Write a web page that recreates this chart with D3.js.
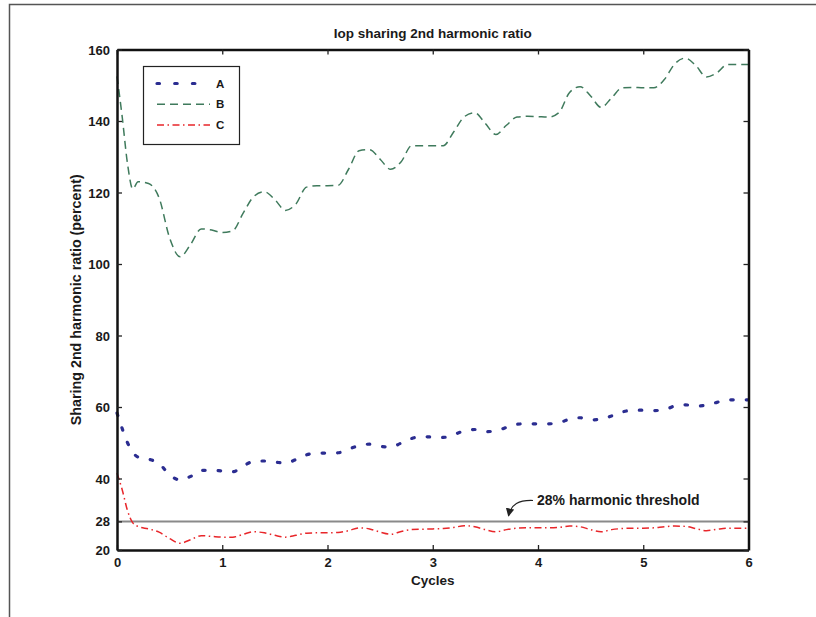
<!DOCTYPE html>
<html><head><meta charset="utf-8">
<script src="https://cdn.jsdelivr.net/npm/d3@7"></script>
<style>
html,body{margin:0;padding:0;background:#fff;}
text{font-family:"Liberation Sans",Arial,Helvetica,sans-serif;font-weight:bold;fill:#1a1a1a;}
</style></head>
<body><svg id="chart" width="816" height="617"></svg>
<script>
const cycles = [0,0.05,0.1,0.15,0.2,0.3,0.4,0.5,0.6,0.7,0.8,0.9,1.0,1.1,1.2,1.3,1.4,1.5,1.6,1.7,1.8,1.9,2.0,2.1,2.2,2.3,2.4,2.5,2.6,2.7,2.8,2.9,3.0,3.1,3.2,3.3,3.4,3.5,3.6,3.7,3.8,3.9,4.0,4.1,4.2,4.3,4.4,4.5,4.6,4.7,4.8,4.9,5.0,5.1,5.2,5.3,5.4,5.5,5.6,5.7,5.8,5.9,6.0];
const seriesA = [58.3,53.9,50,47.3,46,45.4,44.2,41,39.6,40.6,42.3,42.3,42.1,41.9,43.5,44.8,44.9,44.6,44.3,45.3,46.6,47.1,47.1,47.2,48.2,49.2,49.6,49,48.8,49.9,51.2,51.7,51.6,51.5,52.3,53.3,53.7,53.1,53.3,54.3,55.2,55.3,55.3,55.3,55.6,56.6,57,56.4,56.6,57.5,58.6,59.1,59.1,59,59.2,60.3,60.6,60.3,60.5,61.3,62,62,62];
const seriesB = [152.5,141,128,121,123,122.5,118.5,107.3,102,105.5,109.8,109.5,108.8,109.3,114.3,118.9,120.2,118,115,116.8,121.5,121.9,121.9,122,126.5,131.7,132,129.3,126.5,128.6,133.1,133.1,133.1,133.1,137,141.2,142.3,139.3,136.2,138.8,141.1,141.3,141.2,141.1,142.4,148,149.6,147,143.8,146.5,149.3,149.4,149.3,149.3,151.6,156,157.6,155.5,152.3,153.5,155.8,155.8,155.8];
const seriesC = [41.5,36.8,31,27.6,26.6,25.9,25,23.2,21.9,22.9,24,23.8,23.6,23.6,24.4,25.1,24.8,24.1,23.6,24.1,24.7,24.8,24.8,24.9,25.4,26.2,25.9,25,24.4,25.2,25.7,25.8,25.9,26,26.3,26.8,26.5,25.7,25.1,25.7,26.1,26.2,26.2,26.2,26.3,26.7,26.5,25.7,25.1,25.7,26,26.1,26.1,26.2,26.5,26.7,26.6,26,25.4,25.8,26.1,26.1,26.1];
const seriesNames = ["A","B","C"];
const xTicks = [0,1,2,3,4,5,6];
const yTicks = [20,28,40,60,80,100,120,140,160];
const threshold = 28;
const titleText = "Iop sharing 2nd harmonic ratio";
const xLabel = "Cycles";
const yLabel = "Sharing 2nd harmonic ratio (percent)";
const annotationText = "28% harmonic threshold";

const svg = d3.select("#chart");
const L = 117, R = 748.5, T = 49.5, B = 550;
const x = d3.scaleLinear().domain([0,6]).range([L,R]);
const y = d3.scaleLinear().domain([20,160]).range([B,T]);

// outer frame
svg.append("path").attr("d","M9.5,617 L9.5,4.5 L816,4.5").attr("fill","none").attr("stroke","#555").attr("stroke-width",1.5);

// title
svg.append("text").attr("x",(L+R)/2).attr("y",38).attr("text-anchor","middle").attr("font-size",13.5).text(titleText);

// threshold line
svg.append("line").attr("x1",L).attr("x2",R).attr("y1",y(threshold)).attr("y2",y(threshold)).attr("stroke","#8a8a8a").attr("stroke-width",2);

const styles = {
  A:{color:"#2b2d91", width:3.2, dash:"2.5,13", cap:"round"},
  B:{color:"#3f7a5c", width:1.5, dash:"8,5", cap:"butt"},
  C:{color:"#e8262a", width:1.5, dash:"7,3.5,1.5,3.5", cap:"butt"}
};
const data = {A:seriesA, B:seriesB, C:seriesC};
const line = d3.line().x((d,i)=>x(cycles[i])).y(d=>y(d)).curve(d3.curveMonotoneX);
const plot = svg.append("g");
["C","A","B"].forEach(k=>{
  plot.append("path").datum(data[k]).attr("d",line).attr("fill","none")
    .attr("stroke",styles[k].color).attr("stroke-width",styles[k].width)
    .attr("stroke-dasharray",styles[k].dash).attr("stroke-linecap",styles[k].cap);
});

// axes
const axB = svg.append("g").attr("transform",`translate(0,${B})`)
  .call(d3.axisBottom(x).tickValues(xTicks).tickFormat(d3.format("d")).tickSizeInner(-5).tickSizeOuter(0).tickPadding(8));
const axT = svg.append("g").attr("transform",`translate(0,${T})`)
  .call(d3.axisTop(x).tickValues(xTicks).tickFormat("").tickSizeInner(-5).tickSizeOuter(0));
const axL = svg.append("g").attr("transform",`translate(${L},0)`)
  .call(d3.axisLeft(y).tickValues(yTicks).tickFormat(d3.format("d")).tickSizeInner(-5).tickSizeOuter(0).tickPadding(7));
const axR = svg.append("g").attr("transform",`translate(${R},0)`)
  .call(d3.axisRight(y).tickValues(yTicks).tickFormat("").tickSizeInner(-5).tickSizeOuter(0));
[axB,axT,axL,axR].forEach(g=>{
  g.select(".domain").attr("stroke","#111").attr("stroke-width",2.5);
  g.selectAll(".tick line").attr("stroke","#222").attr("stroke-width",1.3);
  g.selectAll(".tick text").attr("font-size",13).attr("font-family","Liberation Sans, Arial, sans-serif").attr("font-weight","bold").attr("fill","#1a1a1a");
});
axL.selectAll(".tick text").attr("dy","0.35em");

// axis labels
svg.append("text").attr("x",(L+R)/2).attr("y",585).attr("text-anchor","middle").attr("font-size",13.5).text(xLabel);
svg.append("text").attr("transform",`translate(81,${(T+B)/2}) rotate(-90)`).attr("text-anchor","middle").attr("font-size",14.3).text(yLabel);

// legend
const lg = svg.append("g");
lg.append("rect").attr("x",143.5).attr("y",66.5).attr("width",96).attr("height",78).attr("fill","#fff").attr("stroke","#222").attr("stroke-width",1.2);
seriesNames.forEach((k,i)=>{
  const ly = 83.5 + i*20.8;
  lg.append("line").attr("x1",157).attr("x2",210).attr("y1",ly).attr("y2",ly)
    .attr("stroke",styles[k].color).attr("stroke-width",styles[k].width)
    .attr("stroke-dasharray",k==="A"?"2.5,15.2":styles[k].dash).attr("stroke-linecap",styles[k].cap);
  lg.append("text").attr("x",216).attr("y",ly+4).attr("font-size",11.5).text(k);
});

// annotation
svg.append("text").attr("x",537).attr("y",505).attr("font-size",14).text(annotationText);
svg.append("defs").append("marker").attr("id","arr").attr("viewBox","0 0 10 10").attr("refX",9).attr("refY",5)
  .attr("markerWidth",7).attr("markerHeight",7).attr("orient","auto")
  .append("path").attr("d","M0,0 L10,5 L0,10 Z").attr("fill","#222");
svg.append("path").attr("d","M533,500.5 C519,500 511,504 508.5,516").attr("fill","none").attr("stroke","#222").attr("stroke-width",1.2).attr("marker-end","url(#arr)");
</script></body></html>
